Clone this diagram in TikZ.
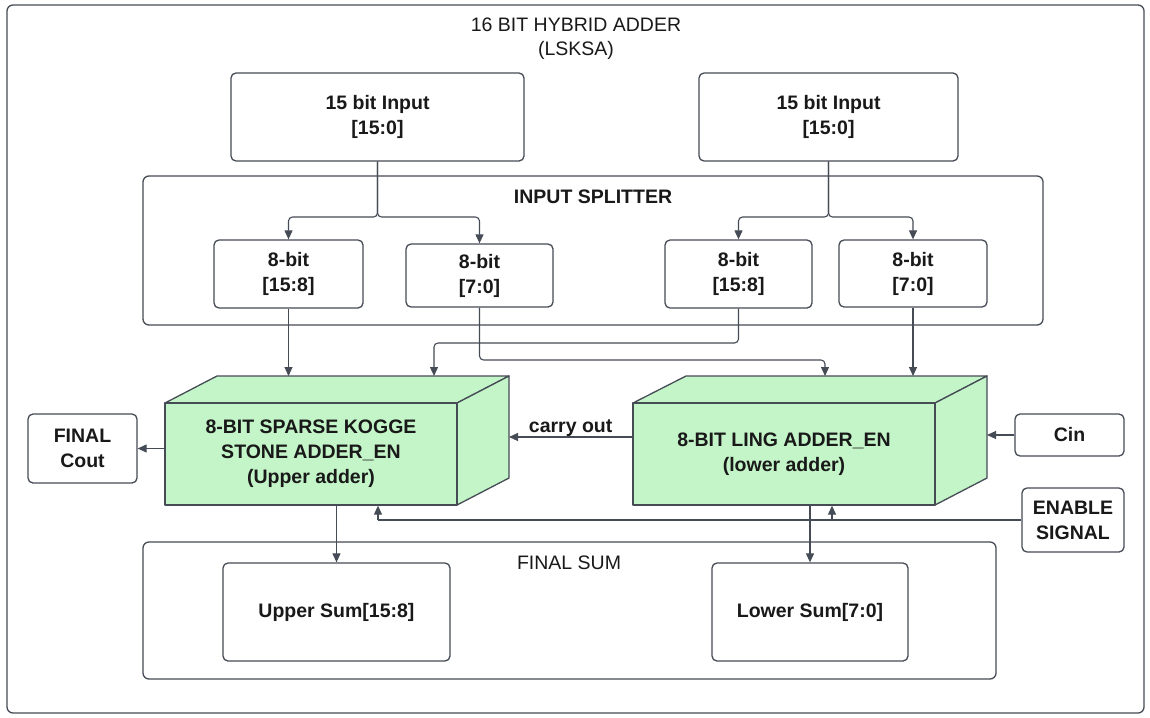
\documentclass[tikz,border=0pt]{standalone}
\usepackage{fontspec}
\setmainfont{Liberation Sans}
\usetikzlibrary{arrows.meta}
\definecolor{ln}{RGB}{70,76,86}
\definecolor{gr}{RGB}{196,245,200}
\definecolor{tx}{RGB}{25,25,25}
\begin{document}
\begin{tikzpicture}[x=1pt,y=-1pt,
  box/.style={draw=ln, line width=1.3pt, rounded corners=5pt, fill=white, inner sep=0pt},
  grp/.style={draw=ln, line width=1.3pt, rounded corners=6pt},
  lbl/.style={font=\bfseries\fontsize{19.5}{25}\selectfont, text=tx, align=center},
  reg/.style={font=\fontsize{19.5}{24}\selectfont, text=tx, align=center},
  conn/.style={draw=ln, line width=1.1pt, -{Triangle[length=9pt,width=8pt]}, rounded corners=4pt},
  wire/.style={draw=ln, line width=1.1pt},
  face/.style={draw=ln, line width=1.3pt, fill=gr, line join=round}]
\useasboundingbox (0,0) rectangle (1150,717);
% outer frame
\draw[grp, fill=white] (7,5) rectangle (1144,713);
\node[reg] (title) at (576,38.5) {16 BIT HYBRID ADDER\\(LSKSA)};
% inputs
\node[box, lbl, minimum width=293, minimum height=88] (in1) at (377.5,117) {15 bit Input\\{}[15:0]};
\node[box, lbl, minimum width=259, minimum height=88] (in2) at (828.5,117) {15 bit Input\\{}[15:0]};
% splitter group
\draw[grp] (143,176) rectangle (1043,325);
\node[lbl] (splt) at (593,197) {INPUT SPLITTER};
\node[box, lbl, minimum width=149, minimum height=68] (a) at (288.5,274) {8-bit\\{}[15:8]};
\node[box, lbl, minimum width=147, minimum height=63] (b) at (479.5,275.5) {8-bit\\{}[7:0]};
\node[box, lbl, minimum width=147, minimum height=68] (c) at (738.5,274) {8-bit\\{}[15:8]};
\node[box, lbl, minimum width=148, minimum height=67] (d) at (913,273.5) {8-bit\\{}[7:0]};
\coordinate (sp) at (0,217);
\draw[conn] (in1.south) -- (in1.south |- sp) -| (a.north);
\draw[conn] (in1.south) -- (in1.south |- sp) -| (b.north);
\draw[conn] (in2.south) -- (in2.south |- sp) -| (c.north);
\draw[conn] (in2.south) -- (in2.south |- sp) -| (d.north);
% upper adder cube
\draw[face] (165,403) -- (217,376) -- (509,376) -- (457,403) -- cycle;
\draw[face] (457,403) -- (509,376) -- (509,478) -- (457,505) -- cycle;
\node[face, lbl, minimum width=292, minimum height=102, inner sep=0pt] (ua) at (311,454) {8-BIT SPARSE KOGGE\\STONE ADDER\_EN\\(Upper adder)};
\coordinate (uat) at (217,376);
% lower adder cube
\draw[face] (633,403) -- (686,376) -- (987,376) -- (935,403) -- cycle;
\draw[face] (935,403) -- (987,376) -- (987,478) -- (935,505) -- cycle;
\node[face, lbl, minimum width=302, minimum height=102, inner sep=0pt] (la) at (784,454) {8-BIT LING ADDER\_EN\\(lower adder)};
\coordinate (lat) at (987,376);
% splitter to adders
\coordinate (r1) at (434,343);
\coordinate (r2) at (825,360);
\draw[conn] (a.south) -- (a.south |- uat);
\draw[conn] (c.south) -- (c.south |- r1) -| (r1 |- uat);
\draw[conn] (b.south) -- (b.south |- r2) -| (r2 |- lat);
\draw[conn] (d.south) -- (d.south |- lat);
% side boxes
\node[box, lbl, minimum width=109, minimum height=69] (fc) at (82.5,448.5) {FINAL\\Cout};
\node[box, lbl, minimum width=109, minimum height=42] (cin) at (1069.5,435) {Cin};
\node[box, lbl, minimum width=102, minimum height=64] (en) at (1073,520) {ENABLE\\SIGNAL};
\draw[conn] (ua.west |- fc.east) -- (fc.east);
\coordinate (co) at (509,437);
\draw[conn] (la.west |- co) -- node[lbl, above, pos=0.5, yshift=-3pt] (colbl) {carry out} (co);
\draw[conn] (cin.west) -- (cin.west -| lat);
% enable
\coordinate (e1) at (378,520);
\coordinate (e2) at (832,520);
\draw[wire] (en.west) -- (e1);
\draw[conn] (e1) -- (e1 |- ua.south);
\draw[conn] (e2) -- (e2 |- la.south);
% final sum
\draw[grp] (143,542) rectangle (996,679);
\node[reg] (fs) at (569,563) {FINAL SUM};
\node[box, lbl, minimum width=227, minimum height=98] (us) at (336.5,612) {Upper Sum[15:8]};
\node[box, lbl, minimum width=196, minimum height=98] (ls) at (810,612) {Lower Sum[7:0]};
\draw[conn] (us.north |- ua.south) -- (us.north);
\draw[conn] (ls.north |- la.south) -- (ls.north);
\end{tikzpicture}
\end{document}
